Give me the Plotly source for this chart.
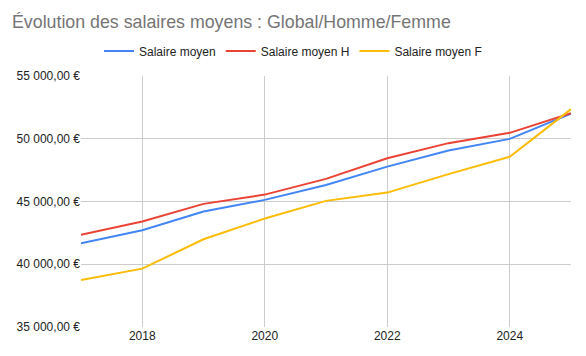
import plotly.graph_objects as go

years = [2017, 2018, 2019, 2020, 2021, 2022, 2023, 2024, 2025]
salaire_moyen = [41680, 42710, 44200, 45130, 46320, 47780, 49060, 49990, 51990]
salaire_h = [42340, 43400, 44810, 45550, 46800, 48450, 49650, 50470, 52040]
salaire_f = [38750, 39650, 41990, 43640, 45050, 45710, 47180, 48560, 52360]

series = [
    ("Salaire moyen", salaire_moyen, "#4285F4"),
    ("Salaire moyen H", salaire_h, "#EA4335"),
    ("Salaire moyen F", salaire_f, "#FBBC04"),
]

fig = go.Figure()
for name, vals, color in series:
    fig.add_trace(go.Scatter(x=years, y=vals, mode="lines", name=name,
                             line=dict(color=color, width=2)))

fig.update_layout(
    width=586, height=356,
    margin=dict(l=81, r=15, t=76, b=29, autoexpand=False),
    paper_bgcolor="white", plot_bgcolor="white",
    separators=", ",
    font=dict(family="Liberation Sans, Arial, sans-serif", size=12, color="#222222"),
    title=dict(text="Évolution des salaires moyens : Global/Homme/Femme",
               x=12/586, xanchor="left", xref="container", y=1-22/356, yanchor="middle",
               font=dict(family="Liberation Sans, Arial, sans-serif", size=17.8, color="#757575"),
               pad=dict(l=0, r=0, t=0, b=0)),
    legend=dict(orientation="h", x=0.5, xanchor="center", xref="container",
                y=1-51/356, yref="container",
                yanchor="middle", font=dict(size=12, color="#222222"), itemwidth=30),
    showlegend=True,
)
fig.update_xaxes(range=[2017, 2025], dtick=2, tick0=2018, showgrid=True, gridcolor="#cccccc",
                 gridwidth=1, zeroline=False, showline=False, ticks="",
                 tickfont=dict(size=12, color="#222222"), automargin=False)
fig.update_yaxes(range=[35000, 55000], dtick=5000, tickformat=",.2f", ticksuffix=" €",
                 showgrid=True, gridcolor="#cccccc", gridwidth=1, zeroline=False,
                 showline=False, ticks="", tickfont=dict(size=12, color="#222222"),
                 automargin=False)

fig.write_html("out.html", config={"displayModeBar": False},
               post_script="document.body.style.margin='0';")
